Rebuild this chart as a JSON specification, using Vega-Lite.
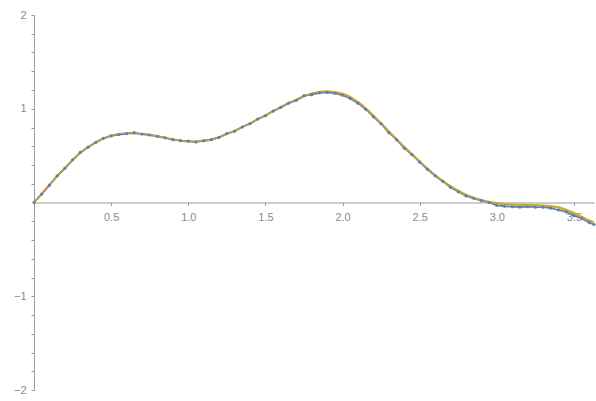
{
  "$schema": "https://vega.github.io/schema/vega-lite/v6.json",
  "width": 560,
  "height": 375,
  "autosize": {"type": "none"},
  "padding": {"left": 34, "top": 15, "right": 2, "bottom": 11},
  "background": "white",
  "config": {
    "view": {"stroke": null},
    "axis": {
      "grid": false,
      "domainColor": "#9a9a9a",
      "domainWidth": 1,
      "tickColor": "#9a9a9a",
      "tickSize": 3,
      "labelColor": "#8a8a8a",
      "labelFont": "Liberation Sans",
      "labelFontSize": 11,
      "title": null
    }
  },
  "datasets": {
    "measured": [
      {"x": 0, "y": 0}, {"x": 0.05, "y": 0.09}, {"x": 0.1, "y": 0.185}, {"x": 0.15, "y": 0.285},
      {"x": 0.2, "y": 0.365}, {"x": 0.25, "y": 0.455}, {"x": 0.3, "y": 0.535}, {"x": 0.35, "y": 0.59},
      {"x": 0.4, "y": 0.64}, {"x": 0.45, "y": 0.685}, {"x": 0.5, "y": 0.71}, {"x": 0.55, "y": 0.725},
      {"x": 0.6, "y": 0.735}, {"x": 0.65, "y": 0.745}, {"x": 0.7, "y": 0.73}, {"x": 0.75, "y": 0.72},
      {"x": 0.8, "y": 0.705}, {"x": 0.85, "y": 0.69}, {"x": 0.9, "y": 0.67}, {"x": 0.95, "y": 0.66},
      {"x": 1.0, "y": 0.655}, {"x": 1.05, "y": 0.645}, {"x": 1.1, "y": 0.66}, {"x": 1.15, "y": 0.67},
      {"x": 1.2, "y": 0.695}, {"x": 1.25, "y": 0.735}, {"x": 1.3, "y": 0.76}, {"x": 1.35, "y": 0.805},
      {"x": 1.4, "y": 0.84}, {"x": 1.45, "y": 0.89}, {"x": 1.5, "y": 0.925}, {"x": 1.55, "y": 0.975},
      {"x": 1.6, "y": 1.015}, {"x": 1.65, "y": 1.06}, {"x": 1.7, "y": 1.09}, {"x": 1.75, "y": 1.14},
      {"x": 1.8, "y": 1.15}, {"x": 1.85, "y": 1.17}, {"x": 1.9, "y": 1.175}, {"x": 1.95, "y": 1.165},
      {"x": 2.0, "y": 1.145}, {"x": 2.05, "y": 1.11}, {"x": 2.1, "y": 1.06}, {"x": 2.15, "y": 0.995},
      {"x": 2.2, "y": 0.915}, {"x": 2.25, "y": 0.84}, {"x": 2.3, "y": 0.745}, {"x": 2.35, "y": 0.67},
      {"x": 2.4, "y": 0.58}, {"x": 2.45, "y": 0.51}, {"x": 2.5, "y": 0.43}, {"x": 2.55, "y": 0.355},
      {"x": 2.6, "y": 0.285}, {"x": 2.65, "y": 0.225}, {"x": 2.7, "y": 0.16}, {"x": 2.75, "y": 0.115},
      {"x": 2.8, "y": 0.07}, {"x": 2.85, "y": 0.045}, {"x": 2.9, "y": 0.02}, {"x": 2.95, "y": 0.0},
      {"x": 3.0, "y": -0.03}, {"x": 3.05, "y": -0.04}, {"x": 3.1, "y": -0.045}, {"x": 3.15, "y": -0.05},
      {"x": 3.2, "y": -0.045}, {"x": 3.25, "y": -0.05}, {"x": 3.3, "y": -0.05}, {"x": 3.35, "y": -0.06},
      {"x": 3.4, "y": -0.08}, {"x": 3.45, "y": -0.1}, {"x": 3.5, "y": -0.14}, {"x": 3.55, "y": -0.17},
      {"x": 3.6, "y": -0.215}, {"x": 3.63, "y": -0.235}
    ],
    "fitA": [
      {"x": 0, "y": 0}, {"x": 0.1, "y": 0.19}, {"x": 0.2, "y": 0.37}, {"x": 0.3, "y": 0.53},
      {"x": 0.4, "y": 0.645}, {"x": 0.5, "y": 0.715}, {"x": 0.6, "y": 0.74}, {"x": 0.7, "y": 0.735},
      {"x": 0.8, "y": 0.71}, {"x": 0.9, "y": 0.675}, {"x": 1.0, "y": 0.65}, {"x": 1.1, "y": 0.655},
      {"x": 1.2, "y": 0.695}, {"x": 1.3, "y": 0.765}, {"x": 1.4, "y": 0.845}, {"x": 1.5, "y": 0.93},
      {"x": 1.6, "y": 1.02}, {"x": 1.7, "y": 1.1}, {"x": 1.8, "y": 1.165}, {"x": 1.9, "y": 1.19},
      {"x": 2.0, "y": 1.16}, {"x": 2.1, "y": 1.07}, {"x": 2.2, "y": 0.925}, {"x": 2.3, "y": 0.755},
      {"x": 2.4, "y": 0.59}, {"x": 2.5, "y": 0.435}, {"x": 2.6, "y": 0.29}, {"x": 2.7, "y": 0.17},
      {"x": 2.8, "y": 0.08}, {"x": 2.9, "y": 0.025}, {"x": 3.0, "y": -0.01}, {"x": 3.1, "y": -0.025},
      {"x": 3.2, "y": -0.03}, {"x": 3.3, "y": -0.035}, {"x": 3.4, "y": -0.06}, {"x": 3.5, "y": -0.12},
      {"x": 3.6, "y": -0.2}, {"x": 3.63, "y": -0.225}
    ],
    "fitB": [
      {"x": 0, "y": 0}, {"x": 0.1, "y": 0.188}, {"x": 0.2, "y": 0.368}, {"x": 0.3, "y": 0.528},
      {"x": 0.4, "y": 0.643}, {"x": 0.5, "y": 0.713}, {"x": 0.6, "y": 0.738}, {"x": 0.7, "y": 0.733},
      {"x": 0.8, "y": 0.708}, {"x": 0.9, "y": 0.674}, {"x": 1.0, "y": 0.652}, {"x": 1.1, "y": 0.658},
      {"x": 1.2, "y": 0.698}, {"x": 1.3, "y": 0.767}, {"x": 1.4, "y": 0.846}, {"x": 1.5, "y": 0.93},
      {"x": 1.6, "y": 1.018}, {"x": 1.7, "y": 1.096}, {"x": 1.8, "y": 1.16}, {"x": 1.9, "y": 1.182},
      {"x": 2.0, "y": 1.162}, {"x": 2.1, "y": 1.075}, {"x": 2.2, "y": 0.93}, {"x": 2.3, "y": 0.76},
      {"x": 2.4, "y": 0.595}, {"x": 2.5, "y": 0.44}, {"x": 2.6, "y": 0.295}, {"x": 2.7, "y": 0.175},
      {"x": 2.8, "y": 0.085}, {"x": 2.9, "y": 0.028}, {"x": 3.0, "y": -0.005}, {"x": 3.1, "y": -0.02},
      {"x": 3.2, "y": -0.025}, {"x": 3.3, "y": -0.03}, {"x": 3.4, "y": -0.05}, {"x": 3.5, "y": -0.11},
      {"x": 3.6, "y": -0.19}, {"x": 3.63, "y": -0.21}
    ]
  },
  "encoding": {
    "x": {
      "field": "x",
      "type": "quantitative",
      "scale": {"domain": [0, 3.63], "nice": false, "zero": false},
      "axis": {
        "orient": "bottom",
        "offset": -187.5,
        "values": [0.5, 1, 1.5, 2, 2.5, 3, 3.5],
        "format": ".1f",
        "labelPadding": 6
      }
    },
    "y": {
      "field": "y",
      "type": "quantitative",
      "scale": {"domain": [-2, 2], "nice": false},
      "axis": {
        "values": [-2, -1.8, -1.6, -1.4, -1.2, -1, -0.8, -0.6, -0.4, -0.2, 0.2, 0.4, 0.6, 0.8, 1, 1.2, 1.4, 1.6, 1.8, 2],
        "labelExpr": "datum.value % 1 === 0 ? format(datum.value, 'd') : ''",
        "labelPadding": 5
      }
    }
  },
  "layer": [
    {
      "data": {"name": "fitB"},
      "mark": {"type": "line", "color": "#B6B532", "strokeWidth": 1.8, "interpolate": "monotone"}
    },
    {
      "data": {"name": "measured"},
      "mark": {"type": "line", "color": "#5E81B5", "strokeWidth": 1.8, "interpolate": "linear"}
    },
    {
      "data": {"name": "fitA"},
      "mark": {"type": "line", "color": "#E19C24", "strokeWidth": 1.4, "interpolate": "monotone", "opacity": 0.9}
    },
    {
      "data": {"name": "measured"},
      "mark": {"type": "point", "filled": true, "color": "#5E81B5", "size": 10, "opacity": 1}
    }
  ]
}
